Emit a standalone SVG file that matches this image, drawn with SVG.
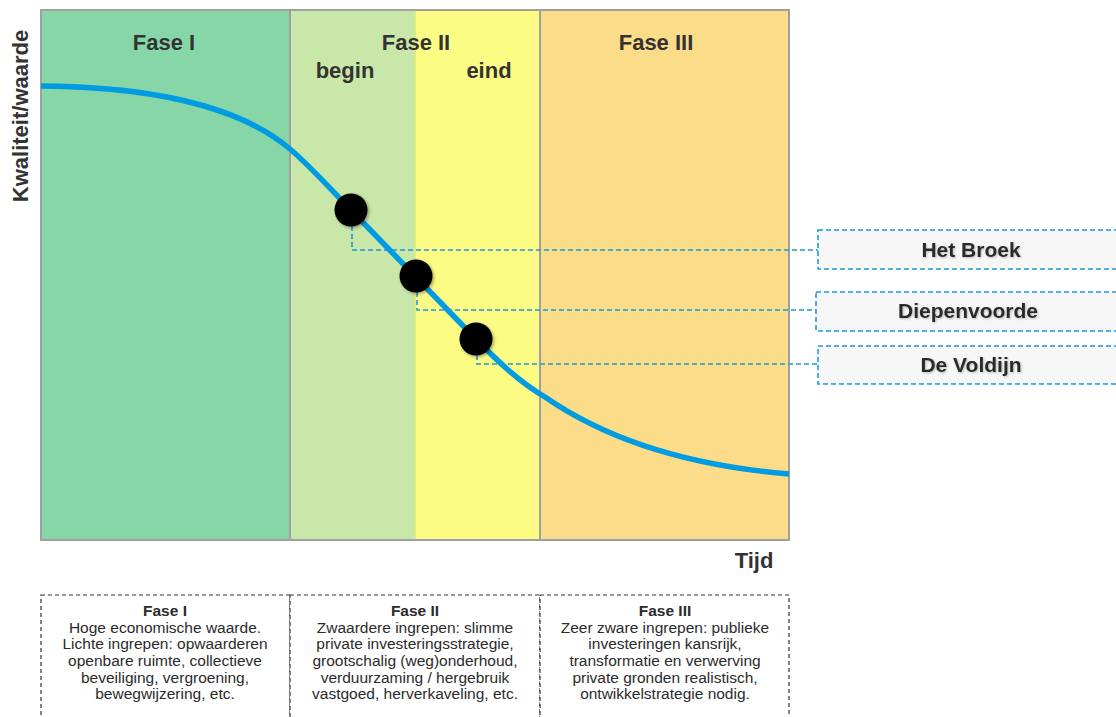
<svg xmlns="http://www.w3.org/2000/svg" width="1116" height="717" viewBox="0 0 1116 717">
<defs>
<filter id="sh" x="-30%" y="-30%" width="160%" height="160%">
<feDropShadow dx="1.5" dy="1.5" stdDeviation="1.5" flood-color="#000" flood-opacity="0.35"/>
</filter>
<filter id="tsh" x="-10%" y="-30%" width="120%" height="160%">
<feDropShadow dx="1" dy="1" stdDeviation="1" flood-color="#000" flood-opacity="0.25"/>
</filter>
</defs>
<style>
.hd{font-family:"Liberation Sans",Arial,sans-serif;font-weight:bold;font-size:22px;fill:#333;text-anchor:middle}
.lbl{font-family:"Liberation Sans",Arial,sans-serif;font-weight:bold;font-size:21px;fill:#2b2b2b;text-anchor:middle}
.bt{font-family:"Liberation Sans",Arial,sans-serif;font-size:15.5px;fill:#2b2b2b;text-anchor:middle}
.btb{font-family:"Liberation Sans",Arial,sans-serif;font-size:15.5px;font-weight:bold;fill:#2b2b2b;text-anchor:middle}
.lead{fill:none;stroke:#1A9BE0;stroke-width:1.6;stroke-dasharray:5 3}
.card{fill:#F7F7F7;stroke:#1A9BE0;stroke-width:1.6;stroke-dasharray:5 3}
.dot{fill:#000;filter:url(#sh)}
.bx{fill:#fff;stroke:#333;stroke-width:1.2;stroke-dasharray:4 3}
</style>
<rect width="1116" height="717" fill="#fff"/>

<g id="chart">
<rect x="41" y="10" width="249" height="530" fill="#86D6A8"/>
<rect x="290" y="10" width="125" height="530" fill="#C9E7A9"/>
<rect x="415" y="10" width="125" height="530" fill="#FCFC85"/>
<rect x="540" y="10" width="249" height="530" fill="#FBDC89"/>
<line x1="415" y1="10" x2="415" y2="540" stroke="#D6EB7C" stroke-width="1.5"/>
<line x1="290" y1="10" x2="290" y2="540" stroke="#A0A0A0" stroke-width="2"/>
<line x1="540" y1="10" x2="540" y2="540" stroke="#A0A0A0" stroke-width="2"/>
<rect x="41" y="10" width="748" height="530" fill="none" stroke="#A0A0A0" stroke-width="2"/>
<text class="hd" x="164" y="50">Fase I</text>
<text class="hd" x="416" y="50">Fase II</text>
<text class="hd" x="345" y="78">begin</text>
<text class="hd" x="489" y="78">eind</text>
<text class="hd" x="656" y="50">Fase III</text>
<text class="hd" x="754" y="568">Tijd</text>
<text class="hd" transform="translate(28,116) rotate(-90)" x="0" y="0">Kwaliteit/waarde</text>
<path d="M41,86 C175,87 250,115 290,149 C310,166 330,188.4 350,209 L470,333 C500,364 520,382 545,397 C600,435 680,465 789,474" fill="none" stroke="#009BE0" stroke-width="5.5"/>
</g>

<g id="connectors">
<polyline class="lead" points="352,226 352,250 818,250"/>
<polyline class="lead" points="417,292 417,310 816,310"/>
<polyline class="lead" points="477,355 477,364 818,364"/>
</g>

<g id="dots">
<circle class="dot" cx="351" cy="210" r="16.5"/>
<circle class="dot" cx="416" cy="276" r="16.5"/>
<circle class="dot" cx="476" cy="339" r="16.5"/>
</g>

<g id="het-broek">
<rect class="card" x="818" y="230" width="310" height="39"/>
<text class="lbl" x="971" y="257" filter="url(#tsh)">Het Broek</text>
</g>
<g id="diepenvoorde">
<rect class="card" x="816" y="292" width="312" height="39"/>
<text class="lbl" x="968" y="318" filter="url(#tsh)">Diepenvoorde</text>
</g>
<g id="de-voldijn">
<rect class="card" x="818" y="346" width="310" height="38"/>
<text class="lbl" x="971" y="372" filter="url(#tsh)">De Voldijn</text>
</g>

<g id="box-fase1">
<rect class="bx" x="41" y="595" width="249" height="140"/>
<text class="btb" x="165" y="616">Fase I</text>
<text class="bt" x="165" y="632.5">Hoge economische waarde.</text>
<text class="bt" x="165" y="649.2">Lichte ingrepen: opwaarderen</text>
<text class="bt" x="165" y="665.9">openbare ruimte, collectieve</text>
<text class="bt" x="165" y="682.6">beveiliging, vergroening,</text>
<text class="bt" x="165" y="699.3">bewegwijzering, etc.</text>
</g>
<g id="box-fase2">
<rect class="bx" x="290" y="595" width="250" height="140"/>
<text class="btb" x="415" y="616">Fase II</text>
<text class="bt" x="415" y="632.5">Zwaardere ingrepen: slimme</text>
<text class="bt" x="415" y="649.2">private investeringsstrategie,</text>
<text class="bt" x="415" y="665.9">grootschalig (weg)onderhoud,</text>
<text class="bt" x="415" y="682.6">verduurzaming / hergebruik</text>
<text class="bt" x="415" y="699.3">vastgoed, herverkaveling, etc.</text>
</g>
<g id="box-fase3">
<rect class="bx" x="540" y="595" width="249" height="140"/>
<text class="btb" x="665" y="616">Fase III</text>
<text class="bt" x="665" y="632.5">Zeer zware ingrepen: publieke</text>
<text class="bt" x="665" y="649.2">investeringen kansrijk,</text>
<text class="bt" x="665" y="665.9">transformatie en verwerving</text>
<text class="bt" x="665" y="682.6">private gronden realistisch,</text>
<text class="bt" x="665" y="699.3">ontwikkelstrategie nodig.</text>
</g>
</svg>
